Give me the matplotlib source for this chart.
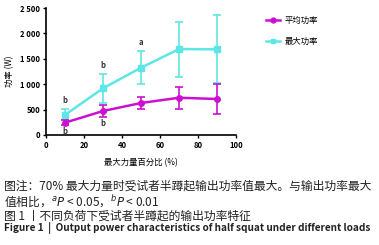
import matplotlib
matplotlib.use("Agg")
import matplotlib.pyplot as plt
from matplotlib.lines import Line2D

plt.rcParams['font.family'] = ['Noto Sans CJK SC', 'DejaVu Sans']

load_pct = [10, 30, 50, 70, 90]
mean_power = [242, 472, 630, 734, 709]
mean_err_hi = [50, 128, 120, 216, 289]
mean_err_lo = [50, 122, 120, 214, 290]
max_power = [394, 919, 1325, 1693, 1687]
max_err_hi = [110, 281, 325, 537, 683]
max_err_lo = [105, 289, 325, 553, 669]
sig_max = ['b', 'b', 'a', '', '']
sig_mean = ['b', 'b', '', '', '']
series_names = ['平均功率', '最大功率']

magenta = '#CC10D0'
cyan = '#5EE6E6'

fig = plt.figure(figsize=(3.79, 2.45), dpi=100)
ax = fig.add_axes([0.121, 0.449, 0.502, 0.518])

ax.errorbar(load_pct, mean_power, yerr=[mean_err_lo, mean_err_hi], color=magenta,
            marker='o', markersize=4, lw=1.8, capsize=3, elinewidth=1.2, capthick=1.2,
            zorder=3)
ax.errorbar(load_pct, max_power, yerr=[max_err_lo, max_err_hi], color=cyan,
            marker='s', markersize=4, lw=1.8, capsize=3, elinewidth=1.2, capthick=1.2,
            zorder=2)

for x, y, e, s in zip(load_pct, max_power, max_err_hi, sig_max):
    if s:
        ax.text(x, y + e + 90, s, ha='center', va='bottom', fontsize=5.5,
                fontweight='bold', color='#333333')
for x, y, e, s in zip(load_pct, mean_power, mean_err_lo, sig_mean):
    if s:
        ax.text(x, y - e - 40, s, ha='center', va='top', fontsize=5.5,
                fontweight='bold', color='#333333')

ax.set_xlim(0, 100)
ax.set_ylim(0, 2500)
ax.set_xticks([0, 20, 40, 60, 80, 100])
ax.set_yticks([0, 500, 1000, 1500, 2000, 2500])
ax.set_yticklabels(['0', '500', '1 000', '1 500', '2 000', '2 500'])
ax.tick_params(labelsize=5.5, width=1, length=2.5, pad=1.5)
for lab in ax.get_xticklabels() + ax.get_yticklabels():
    lab.set_fontweight('bold')
for sp in ['top', 'right']:
    ax.spines[sp].set_visible(False)
for sp in ['left', 'bottom']:
    ax.spines[sp].set_linewidth(1.2)

ax.set_xlabel('最大力量百分比 (%)', fontsize=6, labelpad=6)
ax.set_ylabel('功率 (W)', fontsize=6, labelpad=4)

handles = [Line2D([], [], color=magenta, marker='o', markersize=3.5, lw=1.8),
           Line2D([], [], color=cyan, marker='s', markersize=3.5, lw=1.8)]
ax.legend(handles, series_names, loc='upper left', bbox_to_anchor=(1.12, 1.0),
          frameon=False, fontsize=6, handlelength=1.6, handletextpad=0.6,
          labelspacing=1.5)

fs = 8.5
fig.text(0.01, 0.241, '图注：70% 最大力量时受试者半蹲起输出功率值最大。与输出功率最大',
         fontsize=fs, color='#222222', va='center')
fig.text(0.01, 0.176, '值相比，$^{a}$$P$ < 0.05，$^{b}$$P$ < 0.01',
         fontsize=fs, color='#222222', va='center')
fig.text(0.01, 0.118, '图 1 丨不同负荷下受试者半蹲起的输出功率特征',
         fontsize=fs, color='#222222', va='center')
fig.text(0.01, 0.068, 'Figure 1  |  Output power characteristics of half squat under different loads',
         fontsize=7.2, color='#222222', va='center', fontweight='bold')

fig.savefig('out.png', dpi=100)
